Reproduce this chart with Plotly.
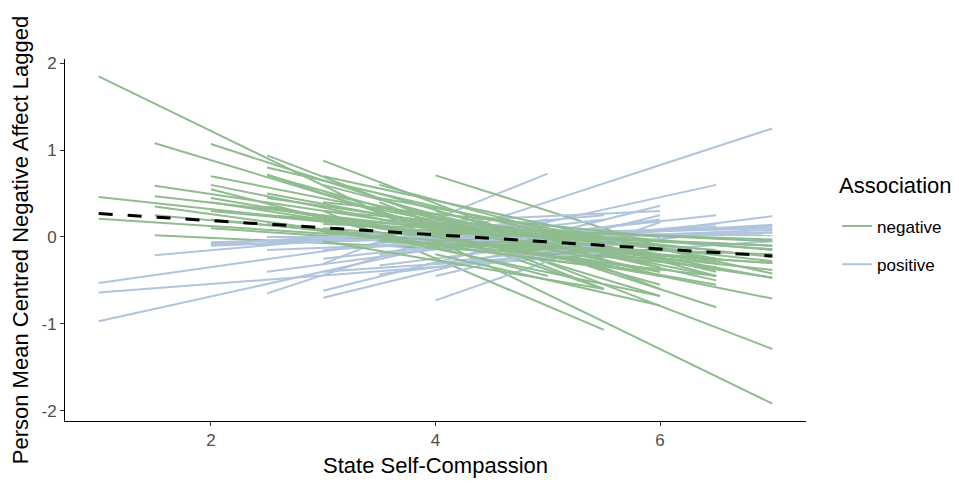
import plotly.graph_objects as go

# ---- data: per-person fitted lines (start x, end x, start y, end y) ----
neg_x0 = [1.0, 1.5, 2.0, 2.5, 2.0, 2.0, 1.5, 1.5, 1.0, 1.0, 1.5, 2.5, 3.0, 4.0, 3.0, 2.5, 2.0, 2.0, 2.0, 1.5,
          2.0, 2.5, 3.0, 3.0, 3.0, 3.5, 3.5, 3.0, 3.5, 3.5, 4.0, 4.0, 3.0, 2.5, 4.0, 3.5, 2.5, 3.0, 4.0, 4.0,
          3.5, 2.0, 1.5, 3.0, 4.0, 3.5, 2.5, 3.0, 3.5, 4.5, 2.5, 3.0, 3.5, 2.0, 4.0, 3.0, 2.5, 3.5]
neg_x1 = [7.0, 6.0, 6.5, 7.0, 6.5, 7.0, 7.0, 6.0, 7.0, 7.0, 6.0, 5.5, 5.5, 6.5, 6.0, 6.0, 5.5, 6.0, 6.5, 5.0,
          5.5, 6.0, 6.5, 7.0, 6.5, 7.0, 6.5, 5.5, 6.0, 5.5, 7.0, 6.5, 7.0, 7.0, 6.0, 7.0, 5.0, 5.5, 6.5, 6.0,
          6.0, 5.0, 5.5, 7.0, 7.0, 6.5, 6.5, 6.0, 7.0, 7.0, 6.5, 7.0, 6.5, 6.0, 7.0, 6.5, 5.5, 6.0]
neg_y0 = [1.85, 1.08, 1.07, 0.94, 0.70, 0.60, 0.59, 0.47, 0.46, 0.21, 0.02, 0.72, 0.30, 0.71, 0.88, 0.71, 0.40, 0.30, 0.20, 0.25,
          0.10, 0.35, 0.50, 0.30, 0.10, 0.35, 0.20, 0.60, 0.50, 0.40, 0.20, 0.10, 0.15, 0.25, 0.30, 0.10, 0.50, -0.05, -0.07, -0.20,
          0.00, 0.55, 0.35, 0.05, 0.05, 0.60, 0.80, 0.40, -0.05, 0.10, 0.45, 0.70, 0.45, 0.45, 0.15, 0.25, 0.15, 0.25]
neg_y1 = [-1.92, -0.68, -0.81, -1.29, -0.45, -0.71, -0.47, -0.20, -0.38, -0.30, -0.25, -0.60, -1.07, -0.31, -0.60, -0.55, -0.30, -0.20, -0.35, -0.15,
          -0.20, -0.40, -0.50, -0.15, -0.25, -0.47, -0.20, -0.25, -0.45, -0.60, -0.23, -0.15, -0.03, -0.14, -0.35, -0.10, -0.10, -0.60, -0.45, -0.79,
          -0.68, -0.45, -0.35, -0.30, -0.10, -0.45, -0.40, 0.00, -0.20, -0.05, -0.30, -0.42, -0.25, -0.45, -0.28, -0.55, -0.35, -0.40]

pos_x0 = [1.0, 2.5, 1.0, 1.0, 1.5, 2.0, 2.0, 4.0, 3.0, 3.0, 3.0, 3.5, 3.5, 2.0, 2.5, 3.0, 3.5, 4.0, 2.5, 3.5,
          3.0, 4.0, 2.0, 4.5, 3.0, 3.5, 2.5, 4.0, 4.5, 3.0, 2.5, 4.0, 3.5]
pos_x1 = [6.5, 7.0, 5.0, 6.0, 5.5, 6.5, 5.5, 6.0, 5.0, 6.0, 6.0, 7.0, 6.5, 7.0, 7.0, 7.0, 7.0, 7.0, 6.0, 6.5,
          5.5, 6.5, 5.0, 7.0, 7.0, 6.0, 5.5, 5.5, 6.5, 6.5, 7.0, 6.5, 5.5]
pos_y0 = [-0.97, -0.65, -0.53, -0.64, -0.21, -0.06, -0.09, -0.73, -0.31, -0.62, -0.70, -0.33, -0.20, -0.10, -0.15, 0.05, -0.05, 0.00, -0.40, -0.43,
          -0.25, -0.10, -0.08, -0.05, -0.40, 0.15, 0.00, -0.45, 0.00, -0.15, -0.05, -0.30, -0.10]
pos_y1 = [0.60, 1.25, 0.20, -0.15, 0.25, 0.10, 0.05, 0.17, 0.73, 0.36, 0.25, 0.24, 0.15, 0.12, 0.08, 0.02, 0.05, 0.10, 0.20, 0.05,
          0.10, 0.25, 0.15, 0.14, -0.05, 0.30, 0.00, 0.00, 0.10, 0.12, 0.05, 0.05, 0.20]

fixed_x = [1.0, 7.0]
fixed_y = [0.27, -0.22]

y_ticks = [-2, -1, 0, 1, 2]
y_tick_labels = ["-2", "-1", "0", "1", "2"]
x_ticks = [2, 4, 6]

GREEN = "#8fbc8f"
BLUE = "#b0c4de"

fig = go.Figure()

# interleave the two groups so the colours overlap as in the original
items = []
n = max(len(neg_x0), len(pos_x0))
for i in range(n):
    if i < len(neg_x0):
        items.append(("negative", neg_x0[i], neg_x1[i], neg_y0[i], neg_y1[i]))
    if i < len(pos_x0):
        items.append(("positive", pos_x0[i], pos_x1[i], pos_y0[i], pos_y1[i]))

shown = set()
for grp, x0, x1, y0, y1 in items:
    fig.add_trace(go.Scatter(
        x=[x0, x1], y=[y0, y1], mode="lines",
        line=dict(color=GREEN if grp == "negative" else BLUE, width=2),
        name=grp, legendgroup=grp, showlegend=grp not in shown,
        legendrank=1 if grp == "negative" else 2,
        hoverinfo="skip",
    ))
    shown.add(grp)

fig.add_trace(go.Scatter(
    x=fixed_x, y=fixed_y, mode="lines",
    line=dict(color="black", width=3, dash="14px,15px"),
    showlegend=False, hoverinfo="skip",
))

fig.add_annotation(
    text="Association", xref="paper", yref="paper",
    x=1.0418, y=0.65, xanchor="left", yanchor="middle",
    showarrow=False, font=dict(size=22, color="black"),
)

fig.update_layout(
    width=959, height=486,
    margin=dict(l=65, r=152, t=59, b=59),
    plot_bgcolor="white", paper_bgcolor="white",
    font=dict(family="Liberation Sans, Arial, sans-serif", color="black"),
    xaxis=dict(
        range=[0.7, 7.3], tickvals=x_ticks, ticks="outside", ticklen=4,
        tickcolor="#333333", showline=True, linecolor="black", linewidth=1,
        showgrid=False, zeroline=False,
        tickfont=dict(size=17, color="#4d4d4d"),
        title=dict(text="State Self-Compassion", font=dict(size=22, color="black"), standoff=8),
    ),
    yaxis=dict(
        range=[-2.12, 2.05], tickvals=y_ticks, ticktext=y_tick_labels, ticks="outside", ticklen=4,
        tickcolor="#333333", showline=True, linecolor="black", linewidth=1,
        showgrid=False, zeroline=False,
        tickfont=dict(size=17, color="#4d4d4d"),
        title=dict(text="Person Mean Centred Negative Affect Lagged", font=dict(size=22, color="black"), standoff=6),
    ),
    legend=dict(
        font=dict(size=17, color="black"),
        x=1.042, xanchor="left", y=0.587, yanchor="top",
        tracegroupgap=13, traceorder="grouped",
        bgcolor="rgba(0,0,0,0)",
    ),
)

fig.write_html("out.html")
